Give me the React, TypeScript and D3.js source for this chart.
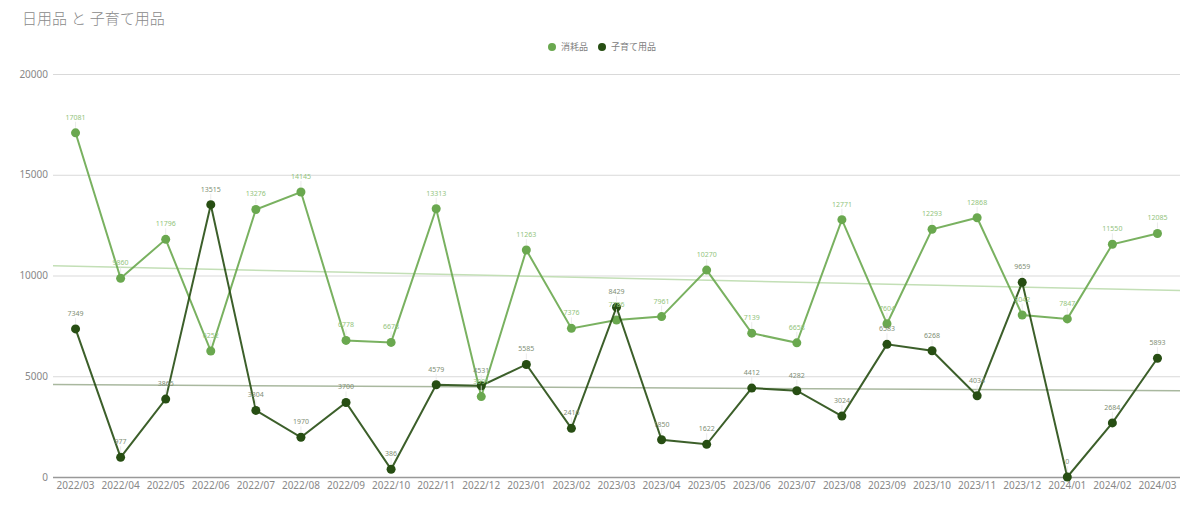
import React, { useEffect, useRef } from 'react';
import * as d3 from 'd3';

const months = [
  '2022/03', '2022/04', '2022/05', '2022/06', '2022/07', '2022/08', '2022/09', '2022/10',
  '2022/11', '2022/12', '2023/01', '2023/02', '2023/03', '2023/04', '2023/05', '2023/06',
  '2023/07', '2023/08', '2023/09', '2023/10', '2023/11', '2023/12', '2024/01', '2024/02', '2024/03',
];

const consumables = [
  17081, 9860, 11796, 6252, 13276, 14145, 6778, 6678, 13313, 3991, 11263, 7376, 7786,
  7961, 10270, 7139, 6658, 12771, 7604, 12293, 12868, 8042, 7847, 11550, 12085,
];

const childcare = [
  7349, 977, 3865, 13515, 3304, 1970, 3700, 386, 4579, 4531, 5585, 2416, 8429,
  1850, 1622, 4412, 4282, 3024, 6583, 6268, 4034, 9659, 0, 2684, 5893,
];

const yTicks = [0, 5000, 10000, 15000, 20000];

const series = [
  { name: '消耗品', values: consumables, color: '#6aa84f', label: '#93c47d', trend: '#c3dfb6' },
  { name: '子育て用品', values: childcare, color: '#274e13', label: '#7f8f76', trend: '#a9b89f' },
];

const FONT = "'Noto Sans', 'Noto Sans CJK JP', sans-serif";

// least squares over the month index
function fit(values: number[]) {
  const xm = d3.mean(values, (_, i) => i)!;
  const ym = d3.mean(values)!;
  let num = 0;
  let den = 0;
  values.forEach((v, i) => {
    num += (i - xm) * (v - ym);
    den += (i - xm) * (i - xm);
  });
  const slope = num / den;
  return (i: number) => ym + slope * (i - xm);
}

export default function App() {
  const svgRef = useRef<SVGSVGElement>(null);

  useEffect(() => {
    document.body.style.margin = '0';
    if (!svgRef.current) return;
    const svg = d3.select(svgRef.current);
    svg.selectAll('*').remove();

    const left = 53;
    const right = 1180;
    const top = 74;
    const bottom = 477;

    const x = d3.scaleBand().domain(months).range([left, right]).padding(0);
    const cx = (m: string) => x(m)! + x.bandwidth() / 2;
    const y = d3.scaleLinear().domain([0, 20000]).range([bottom, top]);

    // title
    svg.append('text')
      .attr('x', 22)
      .attr('y', 24)
      .attr('fill', '#8a8a8a')
      .style('font-family', FONT)
      .style('font-size', '15px')
      .style('font-weight', 300)
      .text('日用品 と 子育て用品');

    // legend
    const legend = svg.append('g').style('font-family', FONT).style('font-size', '9px');
    const legendX = [552, 602];
    series.forEach((s, i) => {
      legend.append('circle').attr('cx', legendX[i]).attr('cy', 47).attr('r', 4).attr('fill', s.color);
      legend.append('text')
        .attr('x', legendX[i] + 9)
        .attr('y', 50)
        .attr('fill', '#808080')
        .text(s.name);
    });

    // grid
    const grid = svg.append('g')
      .attr('transform', `translate(${left},0)`)
      .call(d3.axisLeft(y).tickValues(yTicks).tickSize(-(right - left)).tickFormat(() => ''));
    grid.select('.domain').remove();
    grid.selectAll('line').attr('stroke', '#d9d9d9');
    grid.selectAll('.tick').filter((d) => d === 0).select('line').attr('stroke', '#999').attr('stroke-width', 1.5);

    // y labels
    svg.append('g')
      .selectAll('text')
      .data(yTicks)
      .join('text')
      .attr('x', 48)
      .attr('y', (d) => y(d) + 3.5)
      .attr('text-anchor', 'end')
      .attr('fill', '#888')
      .style('font-family', FONT)
      .style('font-size', '10px')
      .text((d) => d);

    // x labels
    svg.append('g')
      .selectAll('text')
      .data(months)
      .join('text')
      .attr('x', (d) => cx(d))
      .attr('y', bottom + 12)
      .attr('text-anchor', 'middle')
      .attr('fill', '#888')
      .style('font-family', FONT)
      .style('font-size', '10px')
      .text((d) => d);

    // trendlines
    series.forEach((s) => {
      const f = fit(s.values);
      svg.append('line')
        .attr('x1', left)
        .attr('x2', right)
        .attr('y1', y(f(-0.5)))
        .attr('y2', y(f(months.length - 0.5)))
        .attr('stroke', s.trend)
        .attr('stroke-width', 1.5);
    });

    // lines and points
    series.forEach((s) => {
      const line = d3.line<number>()
        .x((_, i) => cx(months[i]))
        .y((d) => y(d));
      svg.append('path')
        .datum(s.values)
        .attr('fill', 'none')
        .attr('stroke', s.color)
        .attr('stroke-opacity', 0.9)
        .attr('stroke-width', 2)
        .attr('d', line);

      svg.append('g')
        .selectAll('circle')
        .data(s.values)
        .join('circle')
        .attr('cx', (_, i) => cx(months[i]))
        .attr('cy', (d) => y(d))
        .attr('r', 4.5)
        .attr('fill', s.color);
    });

    // data labels with leader lines
    series.forEach((s) => {
      const g = svg.append('g');
      g.selectAll('line')
        .data(s.values)
        .join('line')
        .attr('x1', (_, i) => cx(months[i]))
        .attr('x2', (_, i) => cx(months[i]))
        .attr('y1', (d) => y(d) - 5)
        .attr('y2', (d) => y(d) - 11)
        .attr('stroke', '#e6e6e6')
        .attr('stroke-width', 0.8);
      g.selectAll('text')
        .data(s.values)
        .join('text')
        .attr('x', (_, i) => cx(months[i]))
        .attr('y', (d) => y(d) - 13)
        .attr('text-anchor', 'middle')
        .attr('fill', s.label)
        .style('font-family', FONT)
        .style('font-size', '7px')
        .text((d) => d);
    });
  }, []);

  return <svg ref={svgRef} width={1200} height={513} style={{ display: 'block', background: '#fff' }} />;
}
